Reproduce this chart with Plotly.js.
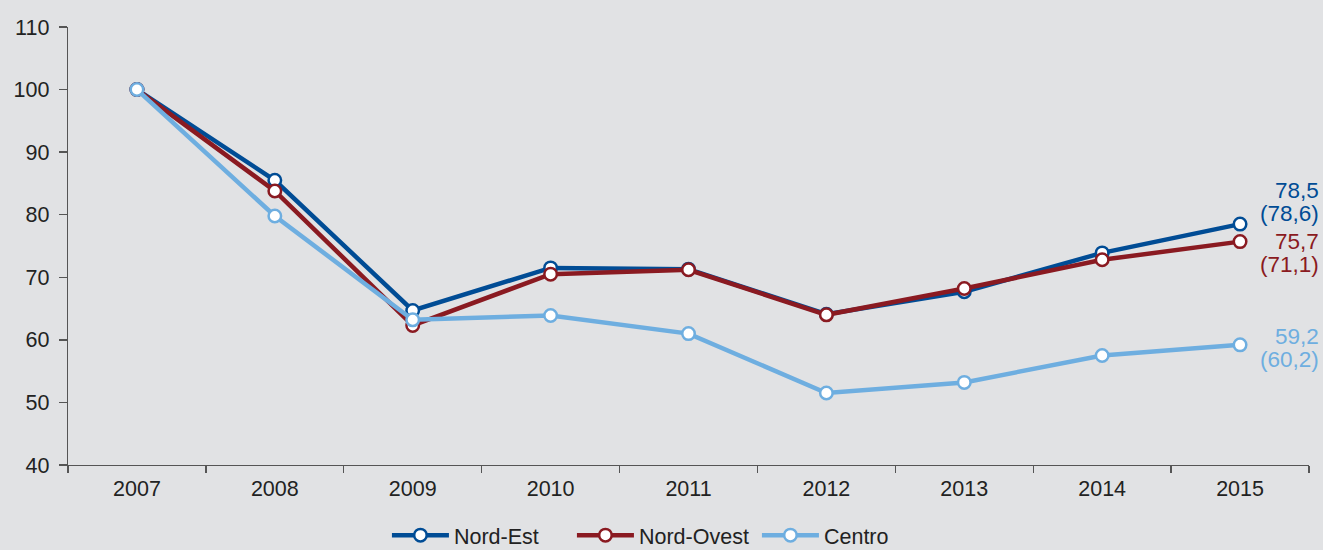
<!DOCTYPE html>
<html>
<head>
<meta charset="utf-8">
<script src="https://cdn.plot.ly/plotly-3.0.1.min.js"></script>
<style>html,body{margin:0;padding:0;background:#e1e2e4;}#chart{width:1323px;height:550px;}</style>
</head>
<body>
<div id="chart"></div>
<script>
var years = ['2007','2008','2009','2010','2011','2012','2013','2014','2015'];
var nordEst = [100, 85.5, 64.7, 71.5, 71.3, 64.1, 67.7, 73.9, 78.5];
var nordOvest = [100, 83.8, 62.3, 70.5, 71.2, 64.0, 68.2, 72.8, 75.7];
var centro = [100, 79.8, 63.2, 63.9, 61.0, 51.5, 53.2, 57.5, 59.2];
var seriesNames = ['Nord-Est', 'Nord-Ovest', 'Centro'];
var endLabels = ['78,5', '75,7', '59,2'];
var endLabelsPrev = ['(78,6)', '(71,1)', '(60,2)'];

var colors = ['#004c95', '#8a1a21', '#6eaee0'];
var values = [nordEst, nordOvest, centro];
var font = 'Liberation Sans, Arial, Helvetica, sans-serif';
var fs = 21.5;

var traces = values.map(function(v, i){
  return {
    x: years, y: v, name: seriesNames[i], type: 'scatter', mode: 'lines+markers',
    line: {color: colors[i], width: 4.5},
    marker: {symbol: 'circle', size: 12.5, color: '#ffffff', line: {color: colors[i], width: 2.5}},
    cliponaxis: false
  };
});

var shifts = [[34, 11], [0, -23], [8, -15]];
var annotations = [];
values.forEach(function(v, i){
  var last = v[v.length - 1];
  annotations.push({x: 1, y: last, xref: 'paper', yref: 'y', text: endLabels[i],
    showarrow: false, xanchor: 'right', yanchor: 'middle', xshift: 12, yshift: shifts[i][0],
    font: {family: font, size: 22.5, color: colors[i]}});
  annotations.push({x: 1, y: last, xref: 'paper', yref: 'y', text: endLabelsPrev[i],
    showarrow: false, xanchor: 'right', yanchor: 'middle', xshift: 12, yshift: shifts[i][1],
    font: {family: font, size: 22.5, color: colors[i]}});
});

var layout = {
  width: 1323, height: 550,
  margin: {l: 68, r: 14, t: 27, b: 85, pad: 0, autoexpand: false},
  paper_bgcolor: '#e1e2e4', plot_bgcolor: '#e1e2e4',
  font: {family: font, size: fs, color: '#222222'},
  showlegend: true,
  legend: {orientation: 'h', x: 0.257, xanchor: 'left', y: -0.207, yanchor: 'bottom',
    font: {family: font, size: fs, color: '#222222'}, itemwidth: 57, entrywidth: 113, entrywidthmode: 'pixels',
    bgcolor: 'rgba(0,0,0,0)', tracegroupgap: 0},
  xaxis: {type: 'category', tickson: 'boundaries', ticks: 'outside', ticklen: 7, tickcolor: '#555555', tickwidth: 1.3,
    showline: true, linecolor: '#555555', linewidth: 1.3, showgrid: false, zeroline: false,
    range: [-0.5, 8.5], tickfont: {family: font, size: fs, color: '#222222'}, ticklabelstandoff: 4},
  yaxis: {range: [40, 110], dtick: 10, tick0: 40, ticks: 'outside', ticklen: 8, tickcolor: '#555555', tickwidth: 1.3,
    showline: true, linecolor: '#555555', linewidth: 1.3, showgrid: false, zeroline: false,
    tickfont: {family: font, size: fs, color: '#222222'}, ticklabelstandoff: 5},
  annotations: annotations
};

Plotly.newPlot('chart', traces, layout, {displayModeBar: false, staticPlot: true});
</script>
</body>
</html>
